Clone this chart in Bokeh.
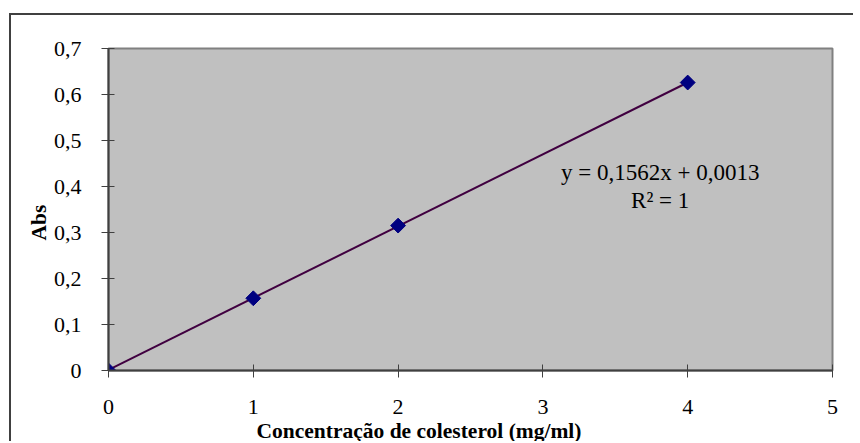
import math
from bokeh.plotting import figure
from bokeh.models import Range1d, FixedTicker, Label, Title
from bokeh.embed import file_html
from bokeh.resources import INLINE

# data
conc = [0, 1, 2, 4]
absorb = [0.0, 0.157, 0.315, 0.626]
slope = 0.1562
intercept = 0.0013
x_ticks = [0, 1, 2, 3, 4, 5]
x_tick_labels = ["0", "1", "2", "3", "4", "5"]
y_ticks = [0, 0.1, 0.2, 0.3, 0.4, 0.5, 0.6, 0.7]
y_tick_labels = ["0", "0,1", "0,2", "0,3", "0,4", "0,5", "0,6", "0,7"]
eq_text = "y = 0,1562x + 0,0013"
r2_text = "R² = 1"
x_label = "Concentração de colesterol (mg/ml)"
y_label = "Abs"

FONT = "Liberation Serif"

p = figure(width=844, height=428, output_backend="svg", toolbar_location=None,
           x_range=Range1d(0, 5), y_range=Range1d(0, 0.7),
           min_border_left=97, min_border_right=23, min_border_top=33, min_border_bottom=73,
           background_fill_color="#C0C0C0", border_fill_color="white",
           margin=(13, 0, 0, 9),
           styles={"border-top": "2px solid #404040", "border-left": "2px solid #404040"})

p.xgrid.visible = False
p.ygrid.visible = False
p.outline_line_color = "#808080"
p.outline_line_width = 2

for ax in (p.xaxis[0], p.yaxis[0]):
    ax.axis_line_color = "#404040"
    ax.axis_line_width = 2
    ax.major_tick_line_color = "#404040"
    ax.major_tick_in = 6
    ax.major_tick_out = 7
    ax.minor_tick_line_color = None
    ax.major_label_text_font = FONT
    ax.major_label_text_font_size = "22px"
    ax.major_label_text_color = "black"

p.xaxis.ticker = FixedTicker(ticks=x_ticks)
p.yaxis.ticker = FixedTicker(ticks=y_ticks)
p.xaxis.major_label_overrides = {t: l for t, l in zip(x_ticks, x_tick_labels)}
p.yaxis.major_label_overrides = {t: l for t, l in zip(y_ticks, y_tick_labels)}
p.xaxis.major_label_standoff = 22
p.yaxis.major_label_standoff = 20

# trendline
tx = [min(conc), max(conc)]
ty = [slope * v + intercept for v in tx]
p.line(tx, ty, line_color="#400040", line_width=2)

p.scatter(conc, absorb, marker="square", angle=math.pi / 4, size=10.5,
          fill_color="#000080", line_color="#000080")

p.add_layout(Label(x=3.81, y=0.430, text=eq_text, text_font=FONT, text_font_size="23px",
                   text_align="center", text_baseline="middle", text_color="black"))
p.add_layout(Label(x=3.81, y=0.370, text=r2_text, text_font=FONT, text_font_size="23px",
                   text_align="center", text_baseline="middle", text_color="black"))

# axis titles (placed off-centre as in the original)
p.add_layout(Title(text=x_label, text_font=FONT, text_font_size="21.5px",
                   text_font_style="bold", align="left", offset=148, standoff=0,
                   text_color="black"), "below")
p.add_layout(Title(text=y_label, text_font=FONT, text_font_size="21.5px",
                   text_font_style="bold", align="left", offset=130, standoff=0,
                   text_color="black"), "left")

open("out.html", "w").write(file_html(p, INLINE))
